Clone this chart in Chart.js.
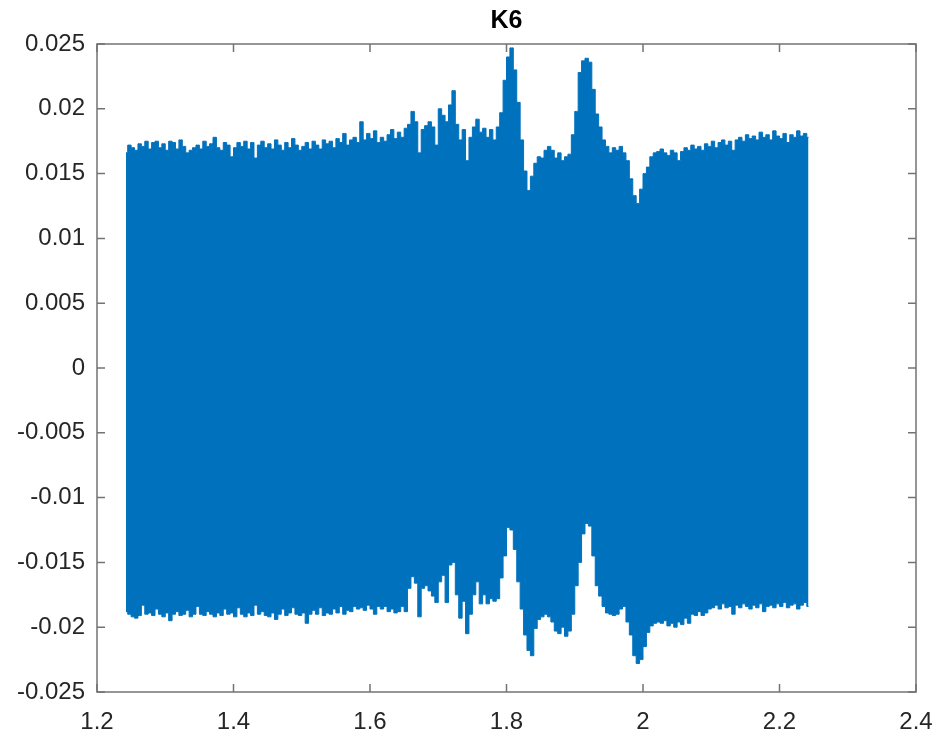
<!DOCTYPE html>
<html lang="en">
<head>
    <meta charset="UTF-8">
    <title>K6</title>
    <script src="https://cdn.jsdelivr.net/npm/chart.js"></script>
    <style>
        body {
            margin: 0;
            padding: 0;
            background-color: #ffffff;
        }
        .chart-container {
            position: relative;
            width: 939px;
            height: 732px;
        }
    </style>
</head>
<body>
    <div class="chart-container">
        <canvas id="k6Chart" width="939" height="732"></canvas>
    </div>
    <script>
        // signal start time and sample spacing of the envelope readings (s)
        const tStart = 1.2425;
        const tStep = 0.005;

        // upper envelope of the oscillation
        const upperEnvelope = [
            0.0166, 0.0172, 0.0170, 0.0168, 0.0173, 0.0171, 0.0175, 0.0169, 0.0174, 0.0175,
            0.0170, 0.0173, 0.0168, 0.0175, 0.0174, 0.0169, 0.0176, 0.0171, 0.0166, 0.0168,
            0.0170, 0.0172, 0.0169, 0.0175, 0.0171, 0.0173, 0.0178, 0.0170, 0.0168, 0.0174,
            0.0172, 0.0163, 0.0170, 0.0174, 0.0171, 0.0175, 0.0169, 0.0174, 0.0162, 0.0172,
            0.0175, 0.0170, 0.0173, 0.0169, 0.0176, 0.0172, 0.0168, 0.0174, 0.0170, 0.0177,
            0.0172, 0.0168, 0.0171, 0.0174, 0.0169, 0.0175, 0.0172, 0.0169, 0.0176, 0.0173,
            0.0175, 0.0170, 0.0177, 0.0174, 0.0181, 0.0172, 0.0176, 0.0178, 0.0174, 0.0190,
            0.0176, 0.0181, 0.0177, 0.0183, 0.0174, 0.0178, 0.0175, 0.0180, 0.0184, 0.0177,
            0.0182, 0.0178, 0.0185, 0.0188, 0.0198, 0.0190, 0.0166, 0.0184, 0.0187, 0.0190,
            0.0186, 0.0172, 0.0200, 0.0195, 0.0190, 0.0203, 0.0214, 0.0188, 0.0176, 0.0184,
            0.0160, 0.0178, 0.0186, 0.0192, 0.0182, 0.0185, 0.0178, 0.0184, 0.0176, 0.0186,
            0.0197, 0.0222, 0.0240, 0.0247, 0.0230, 0.0205, 0.0176, 0.0152, 0.0137, 0.0148,
            0.0158, 0.0163, 0.0162, 0.0168, 0.0171, 0.0168, 0.0162, 0.0166, 0.0160, 0.0163,
            0.0165, 0.0180, 0.0198, 0.0228, 0.0237, 0.0239, 0.0236, 0.0215, 0.0196, 0.0186,
            0.0176, 0.0171, 0.0166, 0.0170, 0.0168, 0.0171, 0.0166, 0.0160, 0.0146, 0.0133,
            0.0127, 0.0138, 0.0150, 0.0155, 0.0163, 0.0166, 0.0167, 0.0169, 0.0166, 0.0164,
            0.0168, 0.0166, 0.0160, 0.0167, 0.0170, 0.0168, 0.0172, 0.0169, 0.0171, 0.0168,
            0.0173, 0.0171, 0.0175, 0.0170, 0.0174, 0.0176, 0.0172, 0.0175, 0.0168, 0.0176,
            0.0178, 0.0175, 0.0180, 0.0177, 0.0179, 0.0176, 0.0182, 0.0178, 0.0180, 0.0176,
            0.0183, 0.0179, 0.0177, 0.0181, 0.0174, 0.0180, 0.0178, 0.0183, 0.0179, 0.0181,
            0.0178
        ];

        // lower envelope of the oscillation
        const lowerEnvelope = [
            -0.0188, -0.0190, -0.0192, -0.0193, -0.0191, -0.0183, -0.0190, -0.0189, -0.0191, -0.0186,
            -0.0190, -0.0192, -0.0189, -0.0195, -0.0190, -0.0188, -0.0191, -0.0190, -0.0187, -0.0192,
            -0.0190, -0.0184, -0.0190, -0.0191, -0.0188, -0.0190, -0.0192, -0.0189, -0.0191, -0.0186,
            -0.0190, -0.0189, -0.0192, -0.0185, -0.0190, -0.0192, -0.0189, -0.0191, -0.0183, -0.0190,
            -0.0188, -0.0191, -0.0192, -0.0189, -0.0194, -0.0190, -0.0186, -0.0191, -0.0189, -0.0185,
            -0.0190, -0.0191, -0.0189, -0.0197, -0.0190, -0.0187, -0.0190, -0.0185, -0.0191, -0.0189,
            -0.0190, -0.0186, -0.0189, -0.0184, -0.0190, -0.0187, -0.0188, -0.0184, -0.0186, -0.0185,
            -0.0187, -0.0183, -0.0186, -0.0190, -0.0184, -0.0186, -0.0184, -0.0188, -0.0186, -0.0189,
            -0.0188, -0.0184, -0.0188, -0.0170, -0.0161, -0.0166, -0.0192, -0.0170, -0.0168, -0.0172,
            -0.0176, -0.0181, -0.0165, -0.0160, -0.0181, -0.0152, -0.0150, -0.0175, -0.0193, -0.0180,
            -0.0205, -0.0190, -0.0175, -0.0165, -0.0182, -0.0175, -0.0182, -0.0178, -0.0180, -0.0178,
            -0.0162, -0.0145, -0.0123, -0.0125, -0.0140, -0.0165, -0.0186, -0.0206, -0.0218, -0.0222,
            -0.0201, -0.0194, -0.0192, -0.0190, -0.0192, -0.0196, -0.0203, -0.0205, -0.0200, -0.0207,
            -0.0203, -0.0190, -0.0168, -0.0150, -0.0128, -0.0120, -0.0122, -0.0145, -0.0168, -0.0176,
            -0.0184, -0.0189, -0.0190, -0.0191, -0.0190, -0.0186, -0.0184, -0.0196, -0.0206, -0.0222,
            -0.0228, -0.0225, -0.0215, -0.0204, -0.0199, -0.0197, -0.0196, -0.0197, -0.0195, -0.0199,
            -0.0197, -0.0200, -0.0196, -0.0198, -0.0193, -0.0197, -0.0190, -0.0191, -0.0188, -0.0191,
            -0.0189, -0.0186, -0.0185, -0.0183, -0.0186, -0.0182, -0.0185, -0.0184, -0.0190, -0.0183,
            -0.0185, -0.0182, -0.0184, -0.0186, -0.0183, -0.0185, -0.0182, -0.0188, -0.0184, -0.0183,
            -0.0185, -0.0182, -0.0184, -0.0181, -0.0185, -0.0183, -0.0182, -0.0186, -0.0183, -0.0181,
            -0.0184
        ];

        // axis limits and tick spacing
        const xRange = [1.2, 2.4];
        const xTickStep = 0.2;
        const yRange = [-0.025, 0.025];
        const yTickStep = 0.005;

        const lineColor = '#0072BD';
        const axisColor = '#737373';
        const textColor = '#262626';
        const fontFamily = "'Liberation Sans', Arial, sans-serif";

        function toPoints(values) {
            return values.map((v, i) => ({ x: tStart + i * tStep, y: v }));
        }

        function formatTick(value) {
            return String(Number(value.toFixed(3)));
        }

        // MATLAB style box with ticks pointing inwards on all four sides
        const boxPlugin = {
            id: 'matlabBox',
            afterDatasetsDraw(chart) {
                const ctx = chart.ctx;
                const area = chart.chartArea;
                const xs = chart.scales.x;
                const ys = chart.scales.y;
                const len = 8;
                ctx.save();
                ctx.strokeStyle = axisColor;
                ctx.lineWidth = 1.5;
                ctx.strokeRect(area.left, area.top, area.right - area.left, area.bottom - area.top);
                ctx.beginPath();
                xs.ticks.forEach(t => {
                    const px = xs.getPixelForValue(t.value);
                    ctx.moveTo(px, area.bottom);
                    ctx.lineTo(px, area.bottom - len);
                    ctx.moveTo(px, area.top);
                    ctx.lineTo(px, area.top + len);
                });
                ys.ticks.forEach(t => {
                    const py = ys.getPixelForValue(t.value);
                    ctx.moveTo(area.left, py);
                    ctx.lineTo(area.left + len, py);
                    ctx.moveTo(area.right, py);
                    ctx.lineTo(area.right - len, py);
                });
                ctx.stroke();
                ctx.restore();
            }
        };

        function createChart() {
            const ctx = document.getElementById('k6Chart').getContext('2d');
            new Chart(ctx, {
                type: 'line',
                data: {
                    datasets: [{
                        label: 'upper',
                        data: toPoints(upperEnvelope),
                        borderColor: lineColor,
                        backgroundColor: lineColor,
                        borderWidth: 1,
                        pointRadius: 0,
                        stepped: 'middle',
                        fill: '+1'
                    }, {
                        label: 'lower',
                        data: toPoints(lowerEnvelope),
                        borderColor: lineColor,
                        backgroundColor: lineColor,
                        borderWidth: 1,
                        pointRadius: 0,
                        stepped: 'middle',
                        fill: false
                    }]
                },
                options: {
                    responsive: false,
                    animation: false,
                    devicePixelRatio: 1,
                    layout: {
                        padding: { left: 0, right: 23, top: 0, bottom: 0 }
                    },
                    plugins: {
                        legend: { display: false },
                        tooltip: { enabled: false },
                        title: {
                            display: true,
                            fullSize: false,
                            text: 'K6',
                            color: '#000000',
                            font: { family: fontFamily, size: 25, weight: 'bold' },
                            padding: { top: 6, bottom: 8 }
                        }
                    },
                    scales: {
                        x: {
                            type: 'linear',
                            min: xRange[0],
                            max: xRange[1],
                            grid: { display: false, drawTicks: false },
                            border: { display: false },
                            ticks: {
                                stepSize: xTickStep,
                                color: textColor,
                                padding: 16,
                                maxRotation: 0,
                                font: { family: fontFamily, size: 24 },
                                callback: formatTick
                            },
                            afterFit(scale) {
                                scale.height = 40;
                                scale.paddingLeft = 0;
                                scale.paddingRight = 0;
                            }
                        },
                        y: {
                            min: yRange[0],
                            max: yRange[1],
                            grid: { display: false, drawTicks: false },
                            border: { display: false },
                            ticks: {
                                stepSize: yTickStep,
                                color: textColor,
                                padding: 12,
                                font: { family: fontFamily, size: 24 },
                                callback: formatTick
                            },
                            afterFit(scale) {
                                scale.width = 97;
                                scale.paddingTop = 0;
                                scale.paddingBottom = 0;
                            }
                        }
                    }
                },
                plugins: [boxPlugin]
            });
        }

        createChart();
    </script>
</body>
</html>
